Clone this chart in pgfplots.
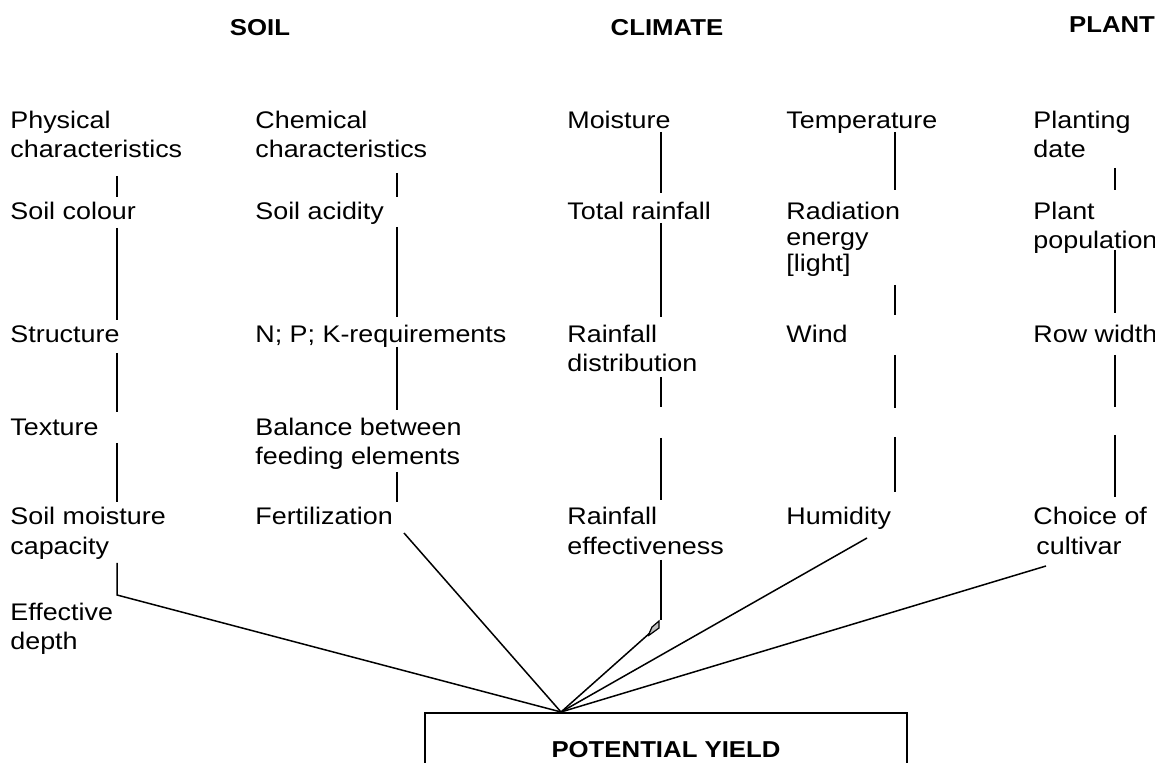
\documentclass[border=0pt]{standalone}
\usepackage{pgfplots}
\pgfplotsset{compat=1.18}
\usepackage{fontspec}
\setmainfont[FakeStretch=1.12]{Liberation Sans}
\tikzset{
  lbl/.style={anchor=base west, inner sep=0pt, font=\fontsize{12}{14}\selectfont},
  hdr/.style={anchor=base, inner sep=0pt, font=\fontsize{11.5}{13}\selectfont\bfseries},
}
\begin{document}
\begin{tikzpicture}
\begin{axis}[
  width=577.5pt, height=381.5pt, scale only axis,
  xmin=0, xmax=1155, ymin=0, ymax=763, y dir=reverse,
  axis lines=none, clip=false,
]
% vertical connectors, column 1
\addplot[black, line width=0.75pt] coordinates {(117,176) (117,197)};
\addplot[black, line width=0.75pt] coordinates {(117,228) (117,320)};
\addplot[black, line width=0.75pt] coordinates {(117,353) (117,412)};
\addplot[black, line width=0.75pt] coordinates {(117,443) (117,502)};
\addplot[black, line width=0.75pt] coordinates {(117,563) (117,595) (561,712)};
% column 2
\addplot[black, line width=0.75pt] coordinates {(397,173) (397,197)};
\addplot[black, line width=0.75pt] coordinates {(397,227) (397,317)};
\addplot[black, line width=0.75pt] coordinates {(397,347) (397,410)};
\addplot[black, line width=0.75pt] coordinates {(397,472) (397,502)};
\addplot[black, line width=0.75pt] coordinates {(404,533) (561,712)};
% column 3
\addplot[black, line width=0.75pt] coordinates {(661,132) (661,193)};
\addplot[black, line width=0.75pt] coordinates {(661,223) (661,317)};
\addplot[black, line width=0.75pt] coordinates {(661,377) (661,407)};
\addplot[black, line width=0.75pt] coordinates {(661,438) (661,500)};
\addplot[black, line width=0.75pt] coordinates {(661,560) (661,620)};
\addplot[black, line width=0.75pt] coordinates {(651,632) (561,712)};
\addplot[black, line width=0.6pt, fill=gray!50] coordinates {(648,636) (652,627) (659,621) (659,628) (648,636)};
% column 4
\addplot[black, line width=0.75pt] coordinates {(895,132) (895,190)};
\addplot[black, line width=0.75pt] coordinates {(895,285) (895,315)};
\addplot[black, line width=0.75pt] coordinates {(895,355) (895,408)};
\addplot[black, line width=0.75pt] coordinates {(895,437) (895,492)};
\addplot[black, line width=0.75pt] coordinates {(867,538) (561,712)};
% column 5
\addplot[black, line width=0.75pt] coordinates {(1115,168) (1115,190)};
\addplot[black, line width=0.75pt] coordinates {(1115,250) (1115,313)};
\addplot[black, line width=0.75pt] coordinates {(1115,355) (1115,407)};
\addplot[black, line width=0.75pt] coordinates {(1115,435) (1115,497)};
\addplot[black, line width=0.75pt] coordinates {(1046,566) (561,712)};
% box
\addplot[black, line width=0.8pt] coordinates {(425,763) (425,713) (907,713) (907,763)};
% headers
\node[hdr] at (axis cs:260,36) {SOIL};
\node[hdr] at (axis cs:667,36) {CLIMATE};
\node[hdr] at (axis cs:1112,33) {PLANT};
\node[hdr] at (axis cs:666,757) {POTENTIAL YIELD};
% column 1
\node[lbl] at (axis cs:10,129) {Physical};
\node[lbl] at (axis cs:10,158) {characteristics};
\node[lbl] at (axis cs:10,220) {Soil colour};
\node[lbl] at (axis cs:10,343) {Structure};
\node[lbl] at (axis cs:10,436) {Texture};
\node[lbl] at (axis cs:10,525) {Soil moisture};
\node[lbl] at (axis cs:10,554) {capacity};
\node[lbl] at (axis cs:10,620) {Effective};
\node[lbl] at (axis cs:10,649) {depth};
% column 2
\node[lbl] at (axis cs:255,129) {Chemical};
\node[lbl] at (axis cs:255,158) {characteristics};
\node[lbl] at (axis cs:255,220) {Soil acidity};
\node[lbl] at (axis cs:255,343) {N; P; K-requirements};
\node[lbl] at (axis cs:255,436) {Balance between};
\node[lbl] at (axis cs:255,465) {feeding elements};
\node[lbl] at (axis cs:255,525) {Fertilization};
% column 3
\node[lbl] at (axis cs:567,129) {Moisture};
\node[lbl] at (axis cs:567,220) {Total rainfall};
\node[lbl] at (axis cs:567,343) {Rainfall};
\node[lbl] at (axis cs:567,372) {distribution};
\node[lbl] at (axis cs:567,525) {Rainfall};
\node[lbl] at (axis cs:567,554) {effectiveness};
% column 4
\node[lbl] at (axis cs:786,129) {Temperature};
\node[lbl] at (axis cs:786,220) {Radiation};
\node[lbl] at (axis cs:786,246) {energy};
\node[lbl] at (axis cs:786,272) {[light]};
\node[lbl] at (axis cs:786,343) {Wind};
\node[lbl] at (axis cs:786,525) {Humidity};
% column 5
\node[lbl] at (axis cs:1033,129) {Planting};
\node[lbl] at (axis cs:1033,158) {date};
\node[lbl] at (axis cs:1033,220) {Plant};
\node[lbl] at (axis cs:1033,249) {population};
\node[lbl] at (axis cs:1033,343) {Row width};
\node[lbl] at (axis cs:1033,525) {Choice of};
\node[lbl] at (axis cs:1036,554) {cultivar};
\end{axis}
\pgfresetboundingbox
\useasboundingbox (0,0) rectangle (577.5pt,381.5pt);
\end{tikzpicture}
\end{document}
